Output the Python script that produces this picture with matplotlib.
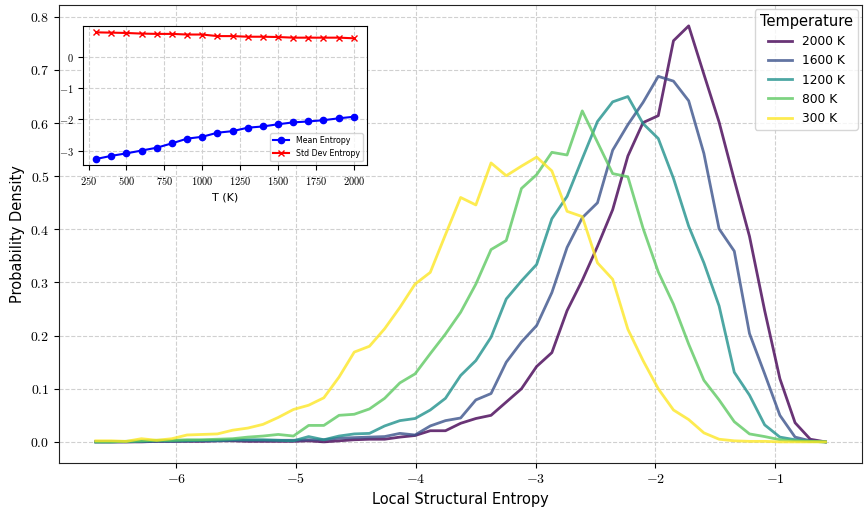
import numpy as np
import matplotlib
matplotlib.use('Agg')
import matplotlib.pyplot as plt
from matplotlib.ticker import FuncFormatter

plt.rcParams['mathtext.fontset'] = 'cm'
plt.rcParams['font.family'] = 'DejaVu Sans'

# bin centres of the entropy histograms (49 bins)
entropy = np.linspace(-6.67, -0.58, 49)

temps = ['2000 K', '1600 K', '1200 K', '800 K', '300 K']

dens_2000 = [0.000, 0.000, 0.000, 0.000, 0.001, 0.001, 0.001, 0.001, 0.002, 0.002,
             0.001, 0.001, 0.001, 0.001, 0.002, 0.000, 0.002, 0.004,
             0.005, 0.005, 0.009, 0.012, 0.021,
             0.021, 0.035, 0.044, 0.050, 0.075, 0.100, 0.142, 0.168, 0.247, 0.304,
             0.368, 0.437, 0.538, 0.601, 0.614, 0.755, 0.783, 0.692, 0.602, 0.493,
             0.387, 0.247, 0.119, 0.036, 0.005, 0.000]
dens_1600 = [0.000, 0.000, 0.000, 0.001, 0.001, 0.001, 0.002, 0.002, 0.002, 0.003,
             0.003, 0.003, 0.003, 0.003, 0.004, 0.004, 0.007, 0.008,
             0.009, 0.010, 0.016, 0.013, 0.030,
             0.040, 0.045, 0.079, 0.091, 0.150, 0.188, 0.219, 0.281, 0.366, 0.422,
             0.450, 0.549, 0.597, 0.639, 0.688, 0.679, 0.642, 0.543, 0.401, 0.359,
             0.204, 0.128, 0.050, 0.009, 0.002, 0.000]
dens_1200 = [0.000, 0.000, 0.001, 0.001, 0.002, 0.002, 0.002, 0.003, 0.003, 0.004,
             0.004, 0.004, 0.003, 0.002, 0.010, 0.004, 0.011, 0.015,
             0.016, 0.030, 0.040, 0.044, 0.060,
             0.082, 0.125, 0.153, 0.197, 0.269, 0.303, 0.334, 0.420, 0.462, 0.533,
             0.603, 0.640, 0.650, 0.599, 0.571, 0.496, 0.406, 0.337, 0.256, 0.131,
             0.088, 0.032, 0.009, 0.004, 0.001, 0.000]
dens_800 = [0.000, 0.000, 0.001, 0.002, 0.003, 0.003, 0.004, 0.004, 0.005, 0.006,
            0.009, 0.011, 0.014, 0.011, 0.031, 0.031, 0.050, 0.052,
            0.062, 0.082, 0.111, 0.128, 0.166,
            0.203, 0.244, 0.297, 0.362, 0.379, 0.477, 0.503, 0.545, 0.540, 0.623,
            0.564, 0.505, 0.499, 0.402, 0.320, 0.259, 0.184, 0.116, 0.079, 0.038,
            0.015, 0.010, 0.004, 0.002, 0.001, 0.000]
dens_300 = [0.002, 0.002, 0.001, 0.006, 0.003, 0.006, 0.013, 0.014, 0.015, 0.022,
            0.026, 0.033, 0.046, 0.061, 0.069, 0.083, 0.122, 0.169, 0.180, 0.213,
            0.253, 0.297, 0.319,
            0.390, 0.460, 0.446, 0.525, 0.501, 0.519, 0.536, 0.510, 0.434, 0.424,
            0.337, 0.306, 0.212, 0.153, 0.100, 0.060, 0.042, 0.017, 0.005, 0.002,
            0.001, 0.001, 0.000, 0.000, 0.000, 0.000]
densities = [dens_2000, dens_1600, dens_1200, dens_800, dens_300]

# inset: statistics vs temperature
T = [300, 400, 500, 600, 700, 800, 900, 1000, 1100, 1200, 1300, 1400, 1500,
     1600, 1700, 1800, 1900, 2000]
mean_S = [-3.27, -3.17, -3.09, -3.00, -2.91, -2.77, -2.62, -2.56, -2.43, -2.38,
          -2.27, -2.23, -2.16, -2.10, -2.07, -2.03, -1.97, -1.92]
std_S = [0.78, 0.77, 0.76, 0.74, 0.73, 0.73, 0.71, 0.71, 0.66, 0.66, 0.64, 0.64,
         0.63, 0.61, 0.61, 0.61, 0.61, 0.59]

colors = plt.cm.viridis(np.linspace(0, 1, len(temps)))

fig = plt.figure(figsize=(8.65, 5.08), dpi=100)
ax = fig.add_axes([0.0686, 0.0892, 0.9279, 0.9008])

for dens, lab, c in zip(densities, temps, colors):
    ax.plot(entropy, dens, color=c, lw=2, alpha=0.8, label=lab)

ax.set_xlabel('Local Structural Entropy', fontsize=10.5)
ax.set_ylabel('Probability Density', fontsize=10.5)
ax.grid(True, ls='--', color='#d0d0d0', lw=0.8)
ax.xaxis.set_major_formatter(FuncFormatter(lambda v, p: '$%d$' % v))
ax.yaxis.set_major_formatter(FuncFormatter(lambda v, p: '$%.1f$' % v))
ax.tick_params(labelsize=10)
for s in ax.spines.values():
    s.set_color('#222222')
leg = ax.legend(title='Temperature', loc='upper right', fontsize=8.8,
                title_fontsize=10.5, borderaxespad=0.35)

# inset
ins = fig.add_axes([0.0963, 0.6746, 0.3276, 0.2742])
ins.plot(T, mean_S, 'o-', color='blue', lw=1.5, ms=4.5, label='Mean Entropy')
ins.plot(T, std_S, 'x-', color='red', lw=1.5, ms=4.5, label='Std Dev Entropy')
ins.set_xlabel('T (K)', fontsize=8)
ins.set_xticks([250, 500, 750, 1000, 1250, 1500, 1750, 2000])
ins.set_yticks([-3, -2, -1, 0])
ins.xaxis.set_major_formatter(FuncFormatter(lambda v, p: '$%d$' % v))
ins.yaxis.set_major_formatter(FuncFormatter(lambda v, p: '$%d$' % v))
ins.tick_params(labelsize=7.5)
ins.grid(True, ls='--', color='#d0d0d0', lw=0.8)
ins.legend(loc='lower right', fontsize=5.7)

fig.savefig('out.png', dpi=100)
